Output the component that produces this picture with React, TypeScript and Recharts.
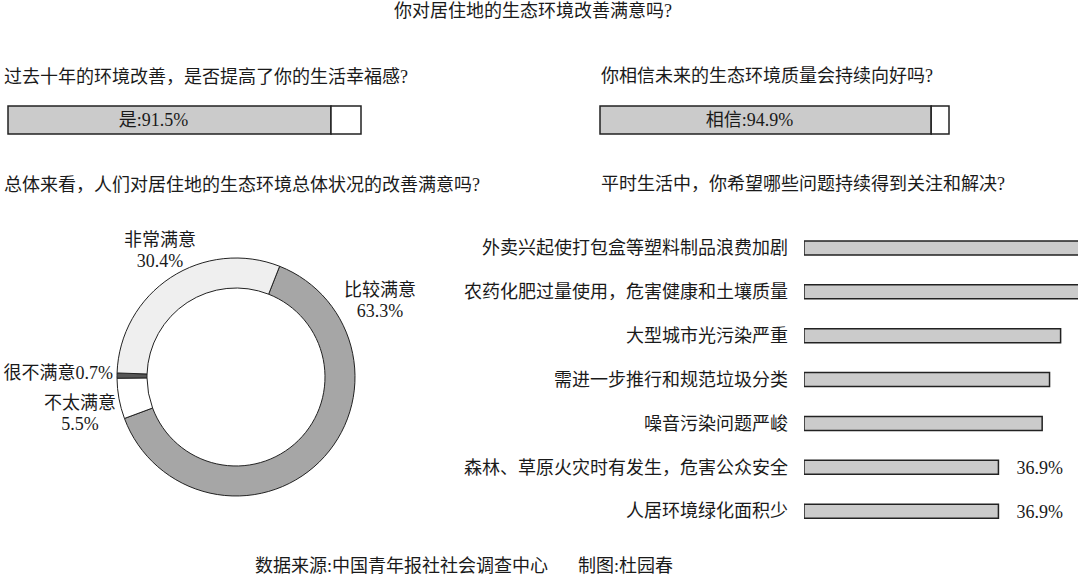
import React from 'react';
import { BarChart, Bar, XAxis, YAxis, PieChart, Pie, Cell, LabelList } from 'recharts';

const FONT = "'Liberation Serif', 'Noto Sans CJK SC', serif";
const TEXT = '#1a1a1a';

// ---- texts ----
const mainTitle = '你对居住地的生态环境改善满意吗?';
const q1Title = '过去十年的环境改善，是否提高了你的生活幸福感?';
const q2Title = '你相信未来的生态环境质量会持续向好吗?';
const q3Title = '总体来看，人们对居住地的生态环境总体状况的改善满意吗?';
const q4Title = '平时生活中，你希望哪些问题持续得到关注和解决?';
const sourceLeft = '数据来源:中国青年报社社会调查中心';
const sourceRight = '制图:杜园春';

// ---- question 1 & 2 (single proportion bars) ----
const q1Names = ['是'];
const q1Values = [91.5];
const q2Names = ['相信'];
const q2Values = [94.9];

// ---- satisfaction donut ----
const satisfactionNames = ['比较满意', '不太满意', '很不满意', '非常满意'];
const satisfactionValues = [63.3, 5.5, 0.7, 30.4];
const satisfactionColors = ['#a6a6a6', '#ffffff', '#565656', '#efefef'];

// ---- issues bars ----
const issueNames = [
  '外卖兴起使打包盒等塑料制品浪费加剧',
  '农药化肥过量使用，危害健康和土壤质量',
  '大型城市光污染严重',
  '需进一步推行和规范垃圾分类',
  '噪音污染问题严峻',
  '森林、草原火灾时有发生，危害公众安全',
  '人居环境绿化面积少',
];
const issueValues = [54.7, 52.8, 48.7, 46.6, 45.2, 36.9, 36.9];
const issueLabels = ['', '', '', '', '', '36.9%', '36.9%'];

const q1Data = q1Names.map((n, i) => ({ name: n, value: q1Values[i], rest: 100 - q1Values[i] }));
const q2Data = q2Names.map((n, i) => ({ name: n, value: q2Values[i], rest: 100 - q2Values[i] }));
const pieData = satisfactionNames.map((n, i) => ({ name: n, value: satisfactionValues[i] }));
const issueData = issueNames.map((n, i) => ({ name: n, value: issueValues[i], label: issueLabels[i] }));

const pieLabelPlacement: Record<string, { dx: number; dy: number; anchor: 'middle' | 'end'; inline?: boolean }> = {
  '非常满意': { dx: -76, dy: -137, anchor: 'middle' },
  '比较满意': { dx: 144, dy: -87, anchor: 'middle' },
  '很不满意': { dx: -123, dy: -4, anchor: 'end', inline: true },
  '不太满意': { dx: -156, dy: 26, anchor: 'middle' },
};

const textStyle = (left: number, centerY: number, extra: React.CSSProperties = {}): React.CSSProperties => ({
  position: 'absolute',
  left,
  top: centerY - 12,
  height: 24,
  lineHeight: '24px',
  fontSize: 18,
  color: TEXT,
  whiteSpace: 'nowrap',
  fontFamily: FONT,
  ...extra,
});

function PieLabel(props: any) {
  const { cx, cy, name, value } = props;
  const p = pieLabelPlacement[name];
  if (!p) return null;
  const x = cx + p.dx;
  const y = cy + p.dy;
  const common = {
    fontSize: 18,
    fill: TEXT,
    fontFamily: FONT,
    textAnchor: p.anchor,
    dominantBaseline: 'central' as const,
  };
  if (p.inline) {
    return (
      <text x={x} y={y} {...common}>
        {`${name}${value}%`}
      </text>
    );
  }
  return (
    <g>
      <text x={x} y={y} {...common}>
        {name}
      </text>
      <text x={x} y={y + 20.5} {...common}>
        {`${value}%`}
      </text>
    </g>
  );
}

function ProportionBar({ data, left, width }: { data: any[]; left: number; width: number }) {
  return (
    <div style={{ position: 'absolute', left: left - 2, top: 104, width: width + 4, height: 32 }}>
      <BarChart
        width={width + 4}
        height={32}
        data={data}
        layout="vertical"
        margin={{ top: 2, right: 2, bottom: 2, left: 2 }}
        barCategoryGap={0}
      >
        <XAxis type="number" domain={[0, 100]} hide />
        <YAxis type="category" dataKey="name" hide />
        <Bar dataKey="value" stackId="a" fill="#cbcbcb" stroke="#222" strokeWidth={1.5} isAnimationActive={false}>
          <LabelList
            dataKey="value"
            content={(p: any) => {
              const { x, y, width: w, height: h, index } = p;
              const item = data[index ?? 0];
              return (
                <text
                  x={x + w / 2 - 16}
                  y={y + h / 2}
                  textAnchor="middle"
                  dominantBaseline="central"
                  fontSize={18}
                  fill={TEXT}
                  fontFamily={FONT}
                >
                  {`${item.name}:${item.value}%`}
                </text>
              );
            }}
          />
        </Bar>
        <Bar dataKey="rest" stackId="a" fill="#ffffff" stroke="#222" strokeWidth={1.5} isAnimationActive={false} />
      </BarChart>
    </div>
  );
}

export default function App() {
  return (
    <div
      style={{
        position: 'absolute',
        left: 0,
        top: 0,
        width: 1080,
        height: 575,
        background: '#ffffff',
        overflow: 'hidden',
        fontFamily: FONT,
      }}
    >
      <div style={textStyle(533, 11, { transform: 'translateX(-50%)' })}>{mainTitle}</div>
      <div style={textStyle(4, 76.5)}>{q1Title}</div>
      <div style={textStyle(601, 75.5)}>{q2Title}</div>
      <div style={textStyle(4, 184.5)}>{q3Title}</div>
      <div style={textStyle(601, 184)}>{q4Title}</div>

      <ProportionBar data={q1Data} left={8} width={353} />
      <ProportionBar data={q2Data} left={600} width={349} />

      <div style={{ position: 'absolute', left: 0, top: 220, width: 480, height: 320 }}>
        <PieChart width={480} height={320} margin={{ top: 0, right: 0, bottom: 0, left: 0 }}>
          <Pie
            data={pieData}
            dataKey="value"
            nameKey="name"
            cx={236}
            cy={157}
            innerRadius={89}
            outerRadius={119}
            startAngle={68.5}
            endAngle={-291.5}
            stroke="#222"
            strokeWidth={1}
            label={PieLabel}
            labelLine={false}
            isAnimationActive={false}
          >
            {pieData.map((d, i) => (
              <Cell key={d.name} fill={satisfactionColors[i]} />
            ))}
          </Pie>
        </PieChart>
      </div>

      <div style={{ position: 'absolute', left: 440, top: 226, width: 640, height: 307 }}>
        <BarChart
          width={640}
          height={307}
          data={issueData}
          layout="vertical"
          margin={{ top: 0, right: 2, bottom: 0, left: 0 }}
          barSize={14}
        >
          <XAxis type="number" domain={[0, 52]} allowDataOverflow hide />
          <YAxis
            type="category"
            dataKey="name"
            width={364}
            axisLine={false}
            tickLine={false}
            tickSize={0}
            tickMargin={16}
            interval={0}
            tick={{ fontSize: 18, fill: TEXT, fontFamily: FONT }}
          />
          <Bar dataKey="value" fill="#cbcbcb" stroke="#222" strokeWidth={1.5} isAnimationActive={false}>
            <LabelList
              dataKey="label"
              position="right"
              offset={18}
              style={{ fontSize: 18, fill: TEXT, fontFamily: FONT }}
            />
          </Bar>
        </BarChart>
      </div>

      <div style={textStyle(255, 566)}>
        {sourceLeft}
        <span style={{ display: 'inline-block', width: 30 }} />
        {sourceRight}
      </div>
    </div>
  );
}
